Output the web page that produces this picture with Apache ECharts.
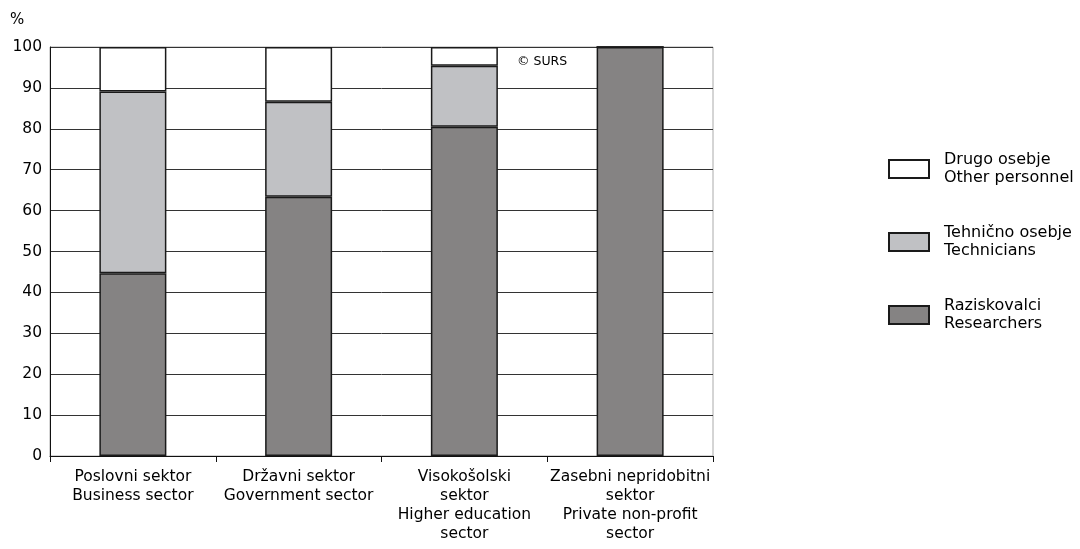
<!DOCTYPE html>
<html><head><meta charset="utf-8">
<script src="https://cdn.jsdelivr.net/npm/echarts@6/dist/echarts.min.js"></script>
<style>html,body{margin:0;padding:0;background:#fff}#c{width:1080px;height:549px}</style>
</head><body><div id="c"></div>
<script>
const categories = ['Poslovni sektor\nBusiness sector', 'Državni sektor\nGovernment sector', 'Visokošolski\nsektor\nHigher education\nsector', 'Zasebni nepridobitni\nsektor\nPrivate non-profit\nsector'];
const researchers = [44.7, 63.4, 80.5, 100];
const technicians = [44.4, 23.2, 14.9, 0];
const other = [10.9, 13.4, 4.6, 0];
const seriesNames = ['Raziskovalci\nResearchers', 'Tehnično osebje\nTechnicians', 'Drugo osebje\nOther personnel'];
const yTicks = [0, 10, 20, 30, 40, 50, 60, 70, 80, 90, 100];

const FONT = 'DejaVu Sans';
const chart = echarts.init(document.getElementById('c'), null, {renderer: 'canvas'});
const border = {borderColor: '#1a1a1a', borderWidth: 1.5};
chart.setOption({
  animation: false,
  textStyle: {fontFamily: FONT, color: '#000'},
  grid: {left: 50, right: 367, top: 47, bottom: 93, show: true, borderColor: '#aaa', borderWidth: 1, backgroundColor: 'transparent'},
  legend: {
    orient: 'vertical', left: 883, top: 146,
    itemWidth: 40, itemHeight: 18, itemGap: 37,
    data: [seriesNames[2], seriesNames[1], seriesNames[0]],
    textStyle: {fontFamily: FONT, fontSize: 16, color: '#000', lineHeight: 18, padding: [0, 0, 0, 10]},
    icon: 'rect'
  },
  graphic: [
    {type: 'text', left: 10, top: 13, style: {text: '%', font: '15px "DejaVu Sans"', fill: '#000'}},
    {type: 'text', left: 517, top: 55, style: {text: '© SURS', font: '12.5px "DejaVu Sans"', fill: '#000'}}
  ],
  xAxis: {
    type: 'category', data: categories,
    axisLine: {lineStyle: {color: '#111', width: 1}},
    axisTick: {show: true, length: 6, lineStyle: {color: '#111'}},
    axisLabel: {fontFamily: FONT, fontSize: 15.5, color: '#000', lineHeight: 19, margin: 11, interval: 0}
  },
  yAxis: {
    type: 'value', min: yTicks[0], max: yTicks[yTicks.length - 1], interval: 10,
    axisLine: {show: true, lineStyle: {color: '#111', width: 1}},
    axisTick: {show: false},
    axisLabel: {fontFamily: FONT, fontSize: 15.5, color: '#000', margin: 8},
    splitLine: {lineStyle: {color: '#333', width: 1}}
  },
  series: [
    {name: seriesNames[0], type: 'bar', stack: 's', data: researchers, barWidth: 67, itemStyle: Object.assign({color: '#858383'}, border)},
    {name: seriesNames[1], type: 'bar', stack: 's', data: technicians, barWidth: 67, itemStyle: Object.assign({color: '#c0c1c4'}, border)},
    {name: seriesNames[2], type: 'bar', stack: 's', data: other, barWidth: 67, itemStyle: Object.assign({color: '#ffffff'}, border)}
  ]
});
</script></body></html>
